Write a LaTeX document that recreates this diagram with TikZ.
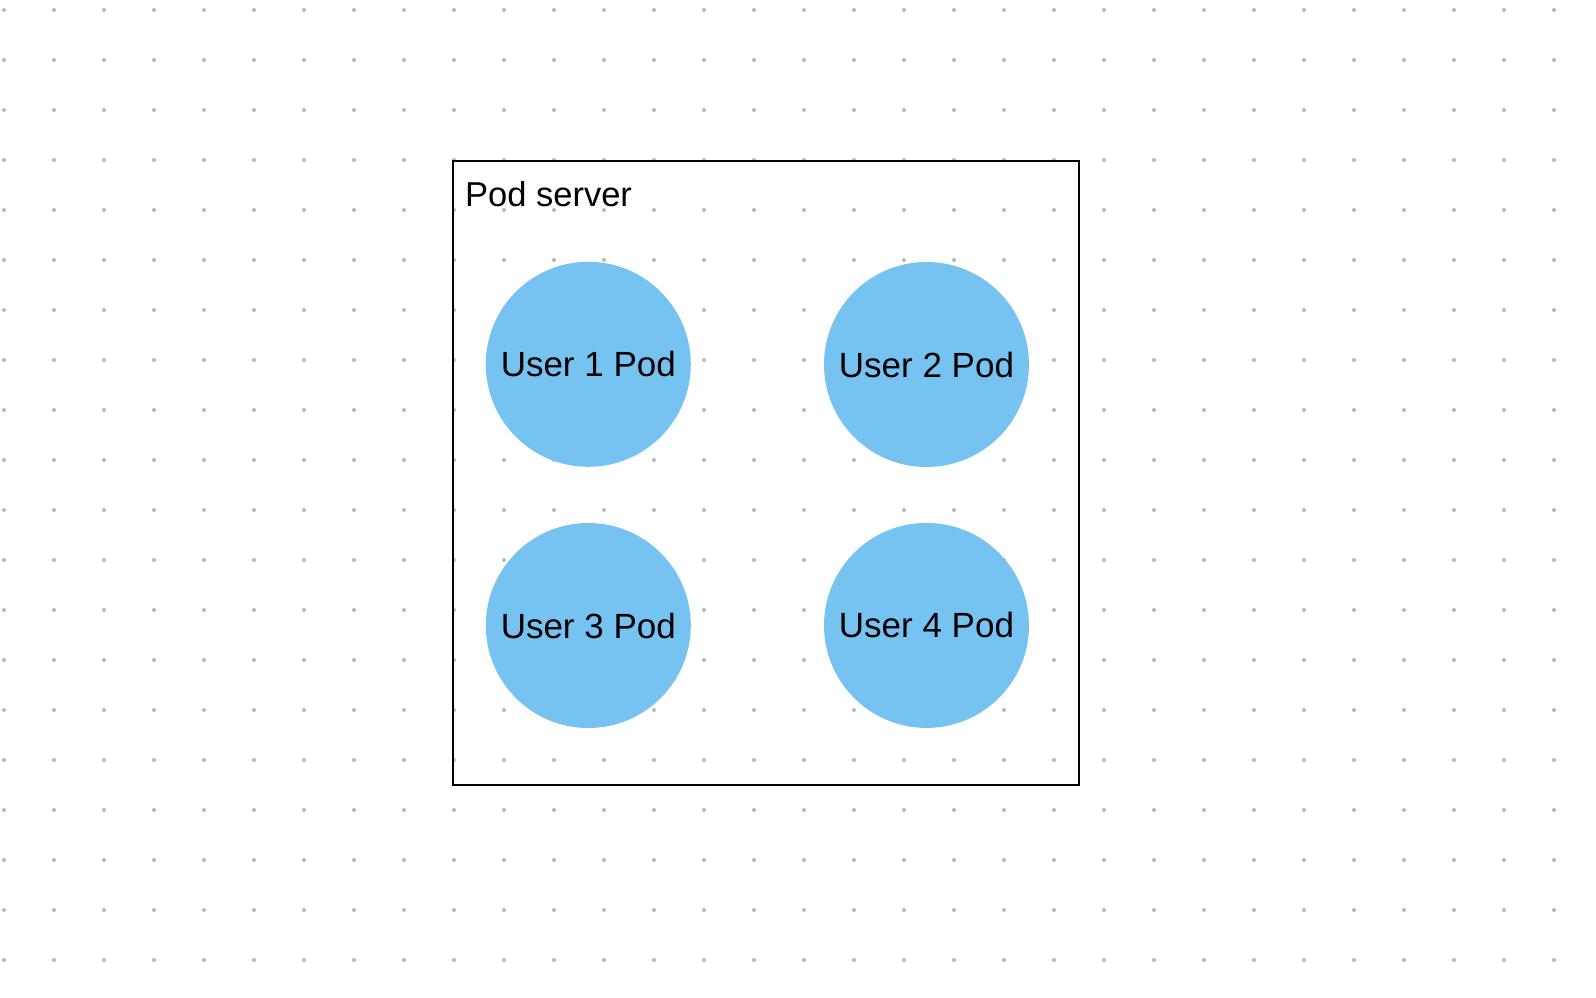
\documentclass[tikz,border=0pt]{standalone}
\usepackage{fontspec}
\setmainfont{Liberation Sans}
\definecolor{podblue}{RGB}{118,195,242}
\definecolor{dotgray}{RGB}{185,185,185}
\begin{document}
\begin{tikzpicture}[x=1pt,y=-1pt,
  pod/.style={circle, fill=podblue, minimum size=205pt, inner sep=0pt,
    font=\fontsize{35}{40}\selectfont, text=black},
  serverbox/.style={draw=black, line width=2pt, minimum width=626.3pt,
    minimum height=624.3pt, inner sep=0pt},
  boxlabel/.style={anchor=base west, inner sep=0pt, font=\fontsize{34.5}{40}\selectfont}]
\useasboundingbox (0,0) rectangle (1596,998);
\fill[white] (0,0) rectangle (1596,998);
% dot grid
\foreach \i in {0,...,31}{
  \foreach \j in {0,...,19}{
    \fill[dotgray] ({4+50*\i},{10+50*\j}) circle (2pt);
  }
}
% server box
\node[serverbox] (server) at (765.85,472.85) {};
\node[boxlabel] (label) at (465,206) {Pod server};
% pods
\node[pod] (u1) at (588.3,364.3) {User 1 Pod};
\node[pod] (u2) at (926.5,364.5) {User 2 Pod};
\node[pod] (u3) at (588.3,625.5) {User 3 Pod};
\node[pod] (u4) at (926.5,625.4) {User 4 Pod};
\end{tikzpicture}
\end{document}
